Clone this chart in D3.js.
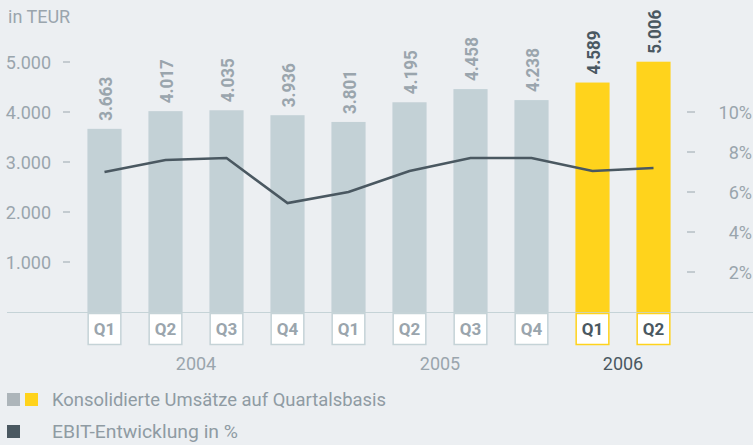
<!DOCTYPE html>
<html>
<head>
<meta charset="utf-8">
<script src="https://cdn.jsdelivr.net/npm/d3@7"></script>
<style>
  body { margin:0; background:#eceff2; }
  svg { display:block; font-family: Roboto, "Noto Sans", sans-serif; }
</style>
</head>
<body>
<div id="chart"></div>
<script>
// data
const quarters = ['Q1','Q2','Q3','Q4','Q1','Q2','Q3','Q4','Q1','Q2'];
const years    = [2004,2004,2004,2004,2005,2005,2005,2005,2006,2006];
const revenue  = [3663,4017,4035,3936,3801,4195,4458,4238,4589,5006];
const ebit     = [7.0,7.6,7.7,5.45,6.0,7.05,7.7,7.7,7.05,7.2];
const leftTicks  = [1000,2000,3000,4000,5000];
const rightTicks = [2,4,6,8,10];
const yearLabels = [2004,2005,2006];

const W = 753, H = 445;
const grey = '#9aa5ad', dark = '#4a5861', barGrey = '#c3d1d6', yellow = '#ffd31c';

const svg = d3.select('#chart').append('svg')
    .attr('width', W).attr('height', H);

svg.append('rect').attr('width', W).attr('height', H).attr('fill', '#eceff2');

const idx = d3.range(revenue.length);
const x = d3.scaleBand().domain(idx).range([74, 684]).paddingInner(0.44).paddingOuter(0.22);
const y = d3.scaleLinear().domain([0, 5000]).range([312, 62]);
const y2 = d3.scaleLinear().domain([0, 10]).range([312, 112]);

const isNew = i => years[i] === 2006;
const fmt = v => d3.format(',')(v).replace(',', '.');

// left axis
svg.append('text').attr('x', 8).attr('y', 23)
    .attr('fill', grey).attr('font-size', 18).text('in TEUR');

const leftAxis = svg.append('g');
leftAxis.selectAll('text').data(leftTicks).join('text')
    .attr('x', 51).attr('y', d => y(d) + 6.5)
    .attr('text-anchor', 'end').attr('fill', grey).attr('font-size', 18)
    .text(fmt);
leftAxis.selectAll('line').data(leftTicks).join('line')
    .attr('x1', 63).attr('x2', 70).attr('y1', d => y(d)).attr('y2', d => y(d))
    .attr('stroke', '#a9b3b9').attr('stroke-width', 1.2);

// right axis
const rightAxis = svg.append('g');
rightAxis.selectAll('line').data(rightTicks).join('line')
    .attr('x1', 687).attr('x2', 695).attr('y1', d => y2(d)).attr('y2', d => y2(d))
    .attr('stroke', '#a9b3b9').attr('stroke-width', 1.2);
rightAxis.selectAll('text').data(rightTicks).join('text')
    .attr('x', 752).attr('y', d => y2(d) + 6.5)
    .attr('text-anchor', 'end').attr('fill', grey).attr('font-size', 18)
    .text(d => d + '%');

// bars
svg.append('g').selectAll('rect').data(idx).join('rect')
    .attr('x', i => x(i)).attr('width', x.bandwidth())
    .attr('y', i => y(revenue[i])).attr('height', i => y(0) - y(revenue[i]))
    .attr('fill', i => isNew(i) ? yellow : barGrey);

// bar value labels
svg.append('g').selectAll('text').data(idx).join('text')
    .attr('transform', i => `translate(${x(i) + x.bandwidth()/2 + 7},${y(revenue[i]) - 8}) rotate(-90)`)
    .attr('font-size', 18).attr('font-weight', 'bold')
    .attr('textLength', 44).attr('lengthAdjust', 'spacingAndGlyphs')
    .attr('fill', i => isNew(i) ? dark : grey)
    .text(i => fmt(revenue[i]));

// baseline
svg.append('line').attr('x1', 7).attr('x2', W).attr('y1', 312.5).attr('y2', 312.5)
    .attr('stroke', '#c5d3d7').attr('stroke-width', 1.2);

// EBIT line
const line = d3.line()
    .x(i => x(i) + x.bandwidth()/2)
    .y(i => y2(ebit[i]));
svg.append('path').datum(idx).attr('d', line)
    .attr('fill', 'none').attr('stroke', dark).attr('stroke-width', 2.6);

// quarter boxes
const qb = svg.append('g').selectAll('g').data(idx).join('g')
    .attr('transform', i => `translate(${x(i)},313)`);
qb.append('rect').attr('x', 0.75).attr('y', 0.5)
    .attr('width', x.bandwidth() - 1.5).attr('height', 31)
    .attr('fill', '#fff')
    .attr('stroke', i => isNew(i) ? yellow : '#c5d3d7').attr('stroke-width', 1.5);
qb.append('text').attr('x', x.bandwidth()/2).attr('y', 22)
    .attr('text-anchor', 'middle').attr('font-size', 17).attr('font-weight', 'bold')
    .attr('fill', i => isNew(i) ? dark : grey)
    .text(i => quarters[i]);

// year labels
svg.append('g').selectAll('text').data(yearLabels).join('text')
    .attr('x', yr => {
        const q = idx.filter(i => years[i] === yr);
        const mid = yr === 2006 ? q : q.slice(1, 3);
        return d3.mean(mid, i => x(i) + x.bandwidth()/2);
    })
    .attr('y', 370).attr('text-anchor', 'middle').attr('font-size', 18)
    .attr('fill', yr => yr === 2006 ? dark : grey)
    .text(yr => yr);

// legend
const legend = svg.append('g');
legend.append('rect').attr('x', 7).attr('y', 393).attr('width', 13).attr('height', 13).attr('fill', '#adb5ba');
legend.append('rect').attr('x', 25).attr('y', 393).attr('width', 13).attr('height', 13).attr('fill', yellow);
legend.append('rect').attr('x', 7).attr('y', 425).attr('width', 13).attr('height', 13).attr('fill', dark);
legend.append('text').attr('x', 52).attr('y', 406).attr('font-size', 18.5).attr('fill', '#8f9ba3')
    .attr('textLength', 334).attr('lengthAdjust', 'spacingAndGlyphs')
    .text('Konsolidierte Umsätze auf Quartalsbasis');
legend.append('text').attr('x', 52).attr('y', 438).attr('font-size', 18.5).attr('fill', '#8f9ba3')
    .attr('textLength', 186).attr('lengthAdjust', 'spacingAndGlyphs')
    .text('EBIT-Entwicklung in %');
</script>
</body>
</html>
